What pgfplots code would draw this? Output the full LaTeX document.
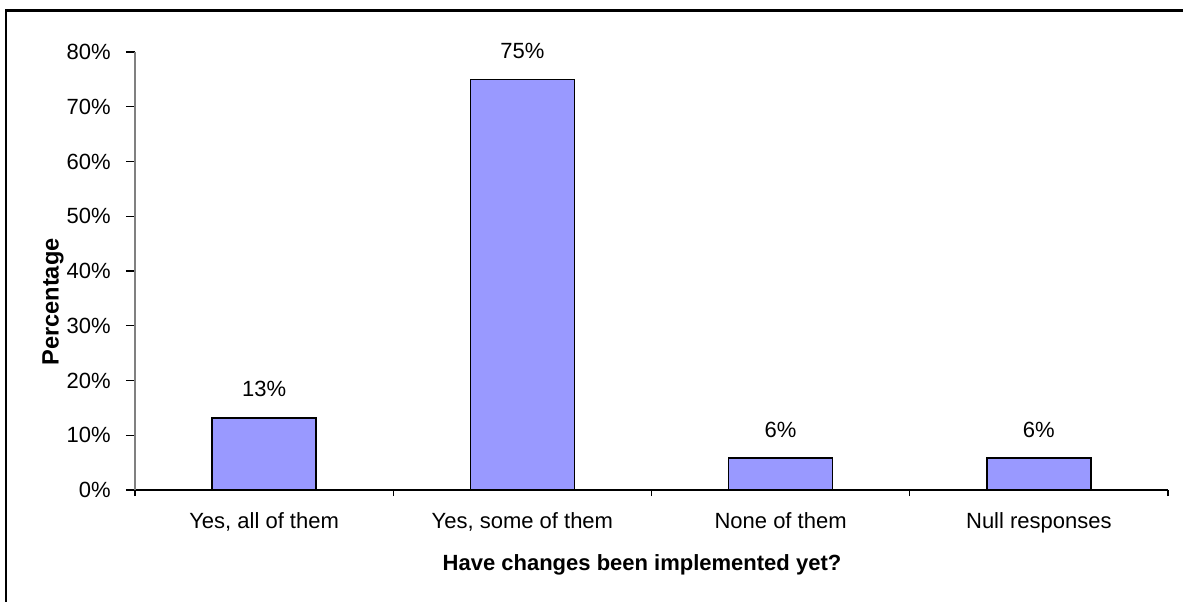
\documentclass[border=0pt]{standalone}
\usepackage{pgfplots}
\pgfplotsset{compat=1.18}
\usepackage{fontspec}
\setmainfont{Liberation Sans}
\definecolor{barfill}{HTML}{9999FF}
\definecolor{axgray}{HTML}{808080}
\begin{document}
\begin{tikzpicture}
\useasboundingbox (0,0) rectangle (591.5pt,300.5pt);
\draw[line width=1.2pt, line join=miter] (3pt,-2pt) -- (3pt,295.3pt) -- (594pt,295.3pt);
\begin{axis}[
  at={(67.5pt,55.5pt)}, anchor=south west,
  scale only axis, width=516.5pt, height=219pt,
  xmin=-0.5, xmax=3.5, ymin=0, ymax=80,
  clip=false,
  axis x line*=bottom, axis y line*=left,
  x axis line style={black, line width=0.6pt, -},
  y axis line style={axgray, line width=0.8pt, -},
  tick align=outside,
  xtick={0,1,2,3},
  xticklabels={{Yes, all of them},{Yes, some of them},{None of them},{Null responses}},
  major x tick style={draw=none},
  minor xtick={-0.5,0.5,1.5,2.5,3.5},
  minor tick length=3pt,
  minor x tick style={black, line width=0.6pt},
  major tick length=4.5pt,
  ytick={0,10,20,30,40,50,60,70,80},
  yticklabels={0\%,10\%,20\%,30\%,40\%,50\%,60\%,70\%,80\%},
  major y tick style={black, line width=0.6pt},
  tick label style={font=\fontsize{11}{13}\selectfont, inner sep=0pt},
  x tick label style={anchor=north, yshift=-6.5pt},
  y tick label style={anchor=east, xshift=-7.5pt},
  /pgf/number format/assume math mode=true,
  ybar, bar width=0.403,
  nodes near coords={\pgfmathprintnumber[fixed,precision=0]{\pgfplotspointmeta}\%},
  every node near coord/.append style={font=\fontsize{11}{13}\selectfont, inner sep=0pt, anchor=south, yshift=10pt, black},
]
\addplot[fill=barfill, draw=black, line width=0.8pt] coordinates {(0,13.2) (1,75) (2,5.8) (3,5.8)};
\end{axis}
\node[rotate=90, font=\bfseries\fontsize{11.8}{14}\selectfont, inner sep=0pt] at (26.5pt,149.5pt) {Percentage};
\node[font=\bfseries\fontsize{11}{13}\selectfont, inner sep=0pt] at (321pt,18pt) {Have changes been implemented yet?};
\end{tikzpicture}
\end{document}
